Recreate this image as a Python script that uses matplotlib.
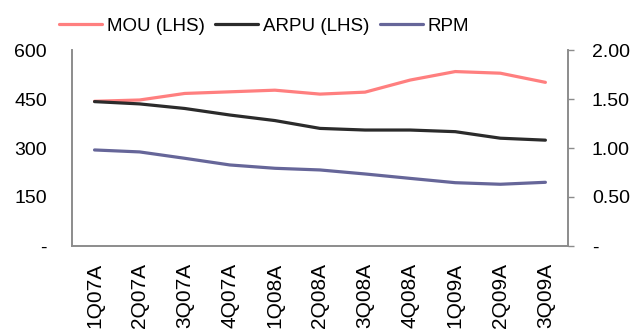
import matplotlib
matplotlib.use('Agg')
import matplotlib.pyplot as plt
import numpy as np

quarters = ['1Q07A', '2Q07A', '3Q07A', '4Q07A', '1Q08A', '2Q08A',
            '3Q08A', '4Q08A', '1Q09A', '2Q09A', '3Q09A']
mou = [443, 447, 467, 472, 477, 465, 471, 508, 534, 529, 501]
arpu = [442, 435, 421, 401, 384, 360, 355, 355, 350, 330, 324]
rpm = [0.98, 0.96, 0.895, 0.827, 0.793, 0.776, 0.735, 0.69, 0.646, 0.63, 0.65]

FONT = ['Liberation Sans', 'DejaVu Sans']
GREY = '#8c8c8c'

fig = plt.figure(figsize=(6.36, 3.29), dpi=100)
ax = fig.add_axes([0.1132, 0.2523, 0.7798, 0.5957])
ax2 = ax.twinx()

xs = np.arange(len(quarters))
l1, = ax.plot(xs, mou, color='#ff7f7f', linewidth=2.3, solid_capstyle='round')
l2, = ax.plot(xs, arpu, color='#2b2b2b', linewidth=2.3, solid_capstyle='round')
l3, = ax2.plot(xs, rpm, color='#666699', linewidth=2.3, solid_capstyle='round')

ax.set_xlim(-0.5, len(quarters) - 0.5)
ax.set_ylim(0, 600)
ax2.set_ylim(0, 2.0)

ax.set_yticks([0, 150, 300, 450, 600])
ax.set_yticklabels(['-', '150', '300', '450', '600'], family=FONT, fontsize=14)
ax2.set_yticks([0, 0.5, 1.0, 1.5, 2.0])
ax2.set_yticklabels(['-', '0.50', '1.00', '1.50', '2.00'], family=FONT, fontsize=14)
ax.set_xticks(xs)
ax.set_xticklabels(quarters, rotation=90, family=FONT, fontsize=15)

ax.tick_params(axis='y', length=0, pad=18)
ax.tick_params(axis='x', length=0, pad=12)
ax2.tick_params(axis='y', length=4.3, width=1, color=GREY, direction='out', pad=13)

for a in (ax, ax2):
    a.spines['top'].set_visible(False)
    for s in ('left', 'right', 'bottom'):
        a.spines[s].set_color(GREY)
        a.spines[s].set_linewidth(1.2)

# legend sits above the plot area, no frame
fig.legend([l1, l2, l3], ['MOU (LHS)', 'ARPU (LHS)', 'RPM'],
           loc='center', bbox_to_anchor=(0.415, 0.92), ncol=3, frameon=False,
           prop={'family': FONT, 'size': 13.5}, handlelength=2.3,
           handletextpad=0.25, columnspacing=0.55)

fig.savefig('out.png', dpi=100)
